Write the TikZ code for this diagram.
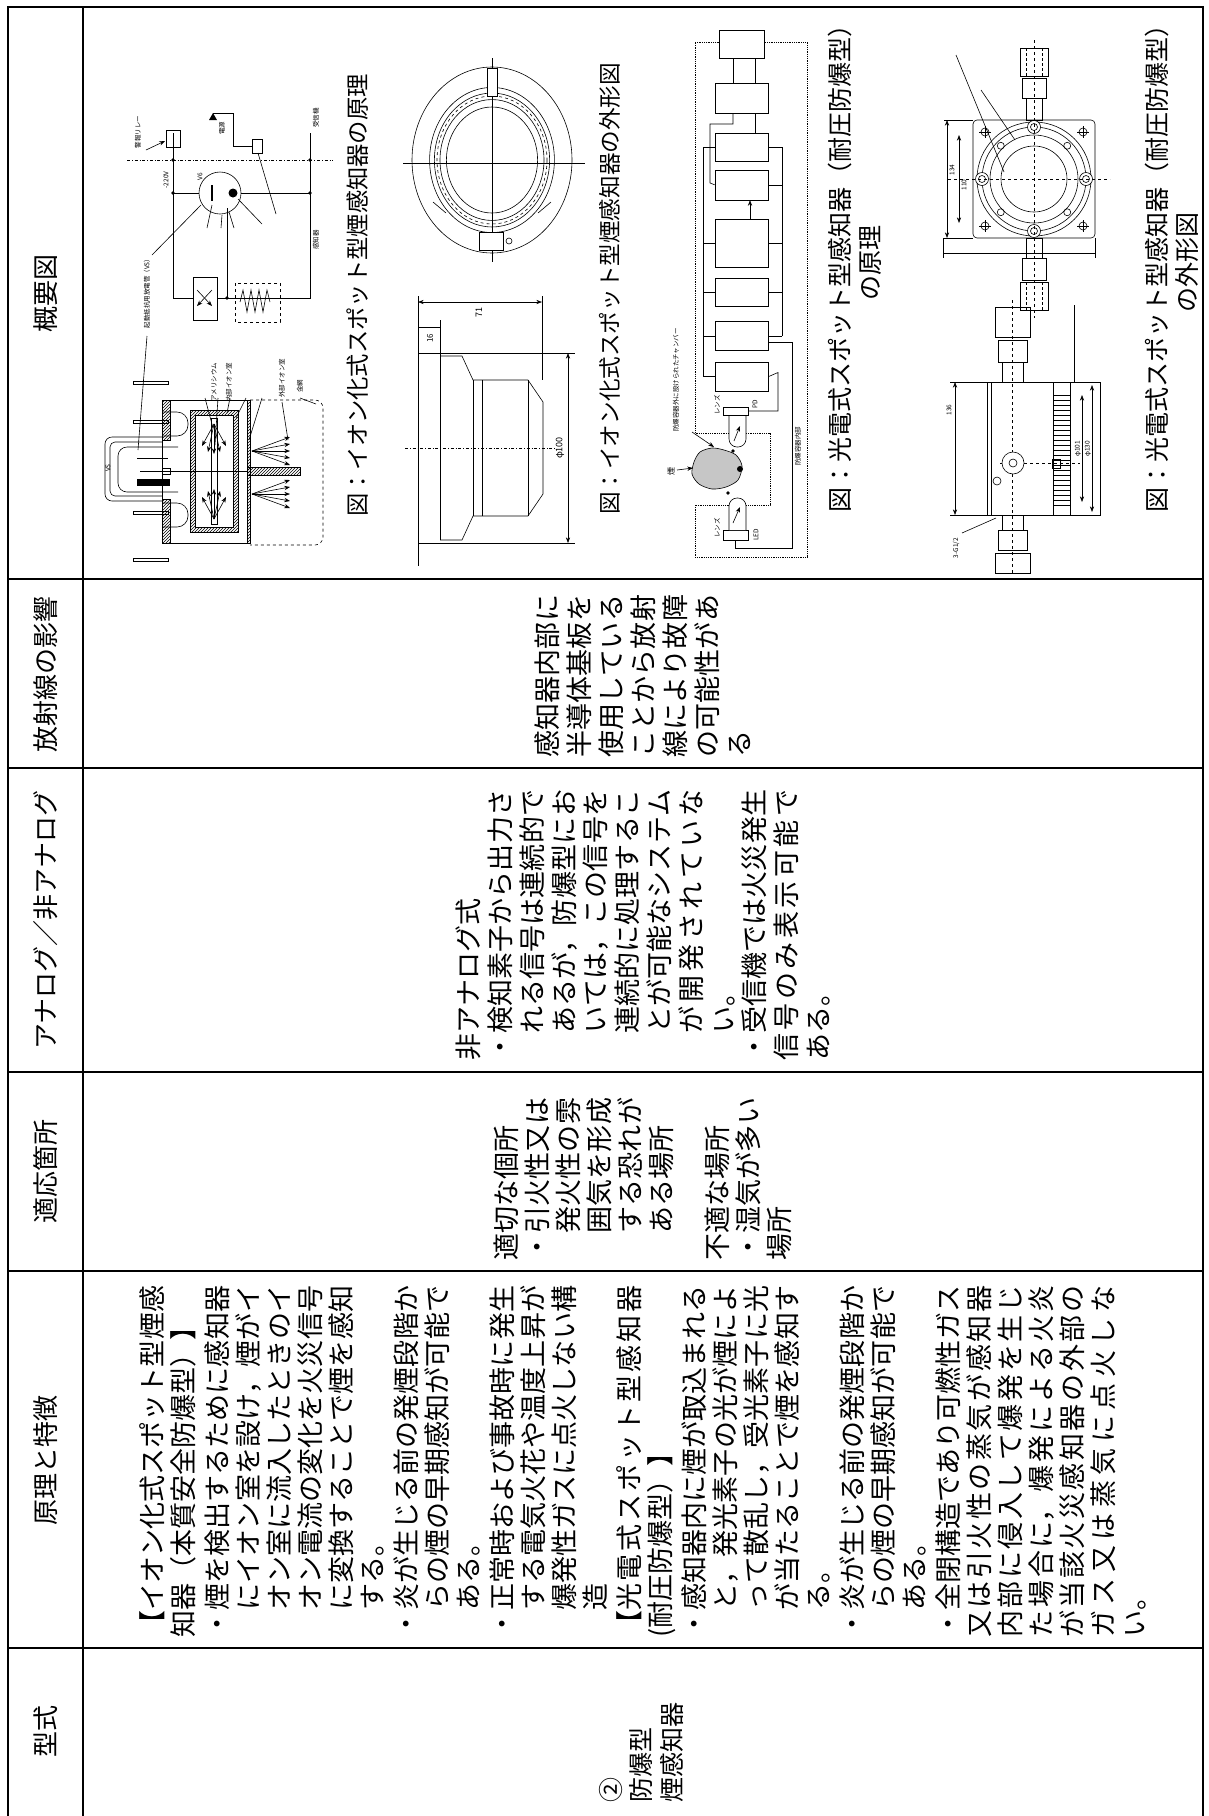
\documentclass[tikz,border=0pt]{standalone}
\usepackage{fontspec}
\setmainfont{Noto Sans CJK JP}
\usetikzlibrary{positioning,arrows.meta,patterns}
\XeTeXlinebreaklocale "ja"
\XeTeXlinebreakskip=0pt plus 8pt
\newcommand\hdrfont{\fontsize{26}{30}\selectfont}
\newcommand\bodyfont[2]{\fontsize{27}{#1}\selectfont\parindent=0pt\parskip=#2\relax}
\newcommand\kindfont{\fontsize{25}{30.5}\selectfont}
\newcommand\capfont[1]{\fontsize{#1}{30}\selectfont}
\newcommand\tinyfont{\fontsize{6.5}{7.5}\selectfont}
\newcommand\itm{\par\hangindent=1em\hangafter=1 ・}

\begin{document}
\begin{tikzpicture}[x=1pt, y=-1pt, >=Stealth, every node/.style={inner sep=0pt}]
  % table rules, header and cell styles
  \tikzset{tablerule/.style={line width=2.4pt},
    hdr/.style={rotate=90, font=\hdrfont},
    cell/.style={rotate=90, anchor=west, align=justify},
    capt/.style={rotate=90, anchor=west},
    lbl/.style={rotate=90, font=\tinyfont},
    blk/.style={draw, fill=white, line width=0.6pt, minimum width=53pt, minimum height=28pt}}
  \useasboundingbox (0,0) rectangle (1208,1816);

  % the table runs on past the lower edge of the page
  \draw[tablerule] (8,1830) -- (8,7) -- (1203,7) -- (1203,1830);
  \draw[tablerule] (83,7) -- (83,1830);
  \foreach \y in {579,768,1072,1271,1648} \draw[tablerule] (8,\y) -- (1203,\y);

  % header column (page is turned by 90 degrees)
  \node[hdr] (hfig) at (45.5,293) {概要図};
  \node[hdr] (hrad) at (45.5,674) {放射線の影響};
  \node[hdr] (hana) at (45.5,920) {アナログ／非アナログ};
  \node[hdr] (hsite) at (45.5,1171) {適応箇所};
  \node[hdr] (hprin) at (45.5,1460) {原理と特徴};
  \node[hdr] (hkind) at (45.5,1731) {型式};

  % cell texts
  \node[rotate=90, anchor=west, align=left, font=\kindfont] (tkind) at (641,1803) {②\\防爆型\\煙感知器};
  \node[cell, text width=352pt, font={\bodyfont{31}{3pt}}] (tprin) at (643,1638) {【イオン化式スポット型煙感\linebreak
知器（本質安全防爆型）】
\itm 煙を検出するために感知器\linebreak
にイオン室を設け，煙がイ\linebreak
オン室に流入したときのイ\linebreak
オン電流の変化を火災信号\linebreak
に変換することで煙を感知\linebreak
する。
\itm 炎が生じる前の発煙段階か\linebreak
らの煙の早期感知が可能で\linebreak
ある。
\itm 正常時および事故時に発生\linebreak
する電気火花や温度上昇が\linebreak
爆発性ガスに点火しない構\linebreak
造
\par【光電式スポット型感知器\linebreak
(耐圧防爆型）】
\itm 感知器内に煙が取込まれる\linebreak
と，発光素子の光が煙によ\linebreak
って散乱し，受光素子に光\linebreak
が当たることで煙を感知す\linebreak
る。
\itm 炎が生じる前の発煙段階か\linebreak
らの煙の早期感知が可能で\linebreak
ある。
\itm 全閉構造であり可燃性ガス\linebreak
又は引火性の蒸気が感知器\linebreak
内部に侵入して爆発を生じ\linebreak
た場合に，爆発による火炎\linebreak
が当該火災感知器の外部の\linebreak
ガス又は蒸気に点火しな\linebreak
い。};
  \node[cell, text width=163pt, font={\bodyfont{31}{0pt}}] (tsite) at (643,1261) {適切な個所
\itm 引火性又は\linebreak
発火性の雰\linebreak
囲気を形成\linebreak
する恐れが\linebreak
ある場所\par\vspace{25pt}
不適な場所
\itm 湿気が多い\linebreak
場所};
  \node[cell, text width=271pt, font={\bodyfont{31.8}{0pt}}] (tana) at (643,1061) {非アナログ式
\itm 検知素子から出力さ\linebreak
れる信号は連続的で\linebreak
あるが，防爆型にお\linebreak
いては，この信号を\linebreak
連続的に処理するこ\linebreak
とが可能なシステム\linebreak
が開発されていな\linebreak
い。
\itm 受信機では火災発生\linebreak
信号のみ表示可能で\linebreak
ある。};
  \node[cell, text width=163pt, font={\bodyfont{32}{0pt}}] (trad) at (643,758) {感知器内部に\linebreak
半導体基板を\linebreak
使用している\linebreak
ことから放射\linebreak
線により故障\linebreak
の可能性があ\linebreak
る};

  % figure captions
  \node[capt, font=\capfont{23.3}] (capion) at (358,517) {図：イオン化式スポット型煙感知器の原理};
  \node[capt, font=\capfont{22.6}] (capionout) at (610,515) {図：イオン化式スポット型煙感知器の外形図};
  \node[rotate=90, anchor=north west, align=center, font=\capfont{25}] (capphoto) at (827.5,513) {図：光電式スポット型感知器（耐圧防爆型）\\の原理};
  \node[rotate=90, anchor=north west, align=center, font=\capfont{25}] (capphotoout) at (1144.5,513) {図：光電式スポット型感知器（耐圧防爆型）\\の外形図};

  % ion chamber principle sketch: circuit
  \begin{scope}[line width=0.6pt]
    \draw[dash dot] (127,160) -- (333,160);
    \draw (173,133) -- (173,298) -- (193,298);
    \draw (217,298) -- (310,298) -- (310,133);
    \draw (173,193) -- (199,193) (241,193) -- (310,193);
    \draw (220,193) circle (21);
    \draw[line width=2pt] (212,185) -- (212,201);
    \fill (233,193) circle (4.5);
    \draw (227,208) -- (227,298);
    \foreach \p in {(173,160),(310,160),(173,193),(310,193),(227,298)} \fill \p circle (1.8);
    \draw (193,277) rectangle (217,320);
    \draw[->] (197,290) -- (212,306);
    \draw[->] (212,290) -- (197,306);
    \draw[dashed] (235,283) rectangle (280,322);
    \draw (240,302) -- (243,290) -- (247,312) -- (251,290) -- (255,312) -- (259,290) -- (263,312) -- (267,290) -- (270,302);
    \draw (166,130) rectangle (180,147);
    \draw[->] (146,150) -- (165,141);
    \fill (213,113) -- (209,120) -- (217,120) -- cycle;
    \draw (213,113) -- (233,113) -- (233,146) -- (252,146);
    \draw (252,139) rectangle (262,153);
    \draw (258,153) -- (276,214);
    \draw (152,255) -- (201,205) (207,228) -- (212,205) (221,228) -- (222,215) (234,228) -- (229,212) (262,224) -- (238,199);
    \node[lbl] (lrelay) at (138,132) {警報リレー};
    \node[lbl] (lpow) at (222,128) {電源};
    \node[lbl] (lrecv) at (316,118) {受信機};
    \node[lbl] (ldet) at (316,240) {感知器};
    \node[lbl] (lvolt) at (166,180) {-220V};
    \node[lbl] (lvs) at (147,292) {起動抵抗用放電管（VS）};
    \node[lbl] (lv6) at (200,177) {V6};

    % tube, pins and chambers
    \foreach \y in {383,422,513,560} \draw (133,\y-1.5) rectangle (168,\y+1.5);
    \draw[rounded corners=7] (162,437) -- (105,437) -- (105,501) -- (162,501);
    \draw[rounded corners=5] (162,442) -- (110,442) -- (110,496) -- (162,496);
    \draw[rounded corners=9] (178,447) -- (118,447) -- (118,492) -- (178,492);
    \draw (137,458) -- (168,458);
    \fill (137,479) rectangle (170,486);
    \draw (162,468) rectangle (170,474);
    \draw[rounded corners=11] (162,412) -- (188,412) -- (188,436) -- (162,436);
    \draw[rounded corners=11] (162,503) -- (188,503) -- (188,527) -- (162,527);
    \draw (162,400) rectangle (250,543);
    \draw[pattern=north east lines] (162,400) rectangle (170,440);
    \draw[pattern=north east lines] (162,499) rectangle (170,543);
    \draw[pattern=north east lines] (247,400) rectangle (250,543);
    \draw[pattern=north east lines] (190,410) rectangle (238,532);
    \draw[fill=white] (195,415) rectangle (233,527);
    \draw (211,418) rectangle (217,524);
    \draw (140,471) -- (247,471);
    \draw[pattern=north east lines] (247,467) rectangle (300,475);
    \foreach \dx/\dy in {-12/22,-6/28,0/30,6/28,12/22} {
      \draw[->] (214,424) -- ++(\dx,\dy);
      \draw[->] (214,519) -- ++(\dx,-\dy);
    }
    \foreach \dy in {-14,-7,0,7,14} {
      \draw[->] (252,451) -- (290,451+\dy);
      \draw[->] (252,494) -- (290,494+\dy);
    }
    \draw[dashed, rounded corners=8] (250,400) -- (323,400) -- (323,545) -- (250,545);
    \draw (147,336) -- (138,450);
    \draw (205,398) -- (213,428) (218,398) -- (215,445) (230,398) -- (227,413) (246,398) -- (236,418) (262,398) -- (249,440) (282,402) -- (288,440) (300,398) -- (316,404);
    \node[lbl] (lam) at (214,382) {アメリシウム};
    \node[lbl] (lin) at (229,382) {内部イオン室};
    \node[lbl] (lout) at (282,378) {外部イオン室};
    \node[lbl] (lnet) at (300,386) {金網};
    \node[lbl] (lvstube) at (108,468) {VS};
  \end{scope}

  % ion detector outline: top view and side view
  \begin{scope}[line width=0.6pt]
    \draw (492,160) ellipse (80 and 93);
    \foreach \r in {0.78,0.72,0.65,0.57} \draw (492,160) ellipse ({80*\r} and {93*\r});
    \draw[dashed] (492,160) ellipse (55 and 64);
    \draw (403,163) -- (585,163) (492,58) -- (492,262);
    \draw[fill=white] (487,68) rectangle (497,96);
    \draw[fill=white] (479,232) rectangle (503,250);
    \draw (509,241) circle (3);
    \draw (433,202) -- (446,213) (551,202) -- (538,213);
    \draw[<->] (418,302) -- (542,302);
    \draw (418,296) -- (418,566) (542,296) -- (542,380);
    \draw (418,327) -- (440,327) (440,320) -- (440,540);
    \draw (418,353) -- (575,353) (418,543) -- (575,543);
    \draw (440,356) -- (462,356) -- (473,380) -- (528,380) -- (543,402) -- (543,494) -- (528,516) -- (473,516) -- (462,540) -- (440,540);
    \draw (473,380) -- (473,516) (482,380) -- (482,516) (528,380) -- (528,516);
    \draw[<->] (568,353) -- (568,543);
    \draw[dash dot] (405,448) -- (555,448);
    \node[lbl, font=\fontsize{9}{10}\selectfont] (l71) at (479,312) {71};
    \node[lbl, font=\fontsize{8}{9}\selectfont] (l16) at (430,338) {16};
    \node[lbl, font=\fontsize{9}{10}\selectfont] (l100) at (560,448) {φ100};
  \end{scope}

  % photoelectric detector block diagram
  \draw[densely dotted, line width=0.8pt] (695,42) -- (807,42) -- (807,557) -- (695,557) -- (695,505) -- (770,505) -- (770,433) -- (695,433) -- cycle;
  \node[blk, minimum width=45pt] (bk1) at (741.5,44) {};
  \node[blk, minimum height=30pt, below=25pt of bk1] (bk2) {};
  \node[blk, below=19pt of bk2] (bk3) {};
  \node[blk, minimum height=30pt, below=8pt of bk3] (bk4) {};
  \node[blk, minimum height=48pt, below=19pt of bk4] (bk5) {};
  \node[blk, below=10pt of bk5] (bk6) {};
  \node[blk, minimum height=29pt, below=15pt of bk6] (bk7) {};
  \node[blk, minimum height=29pt, below=11pt of bk7] (bk8) {};
  \begin{scope}[line width=0.6pt]
    \draw (bk1.south -| 733,0) -- (bk2.north -| 733,0);
    \draw (bk1.south -| 755,0) -- (bk2.north -| 755,0);
    \draw (bk2.south -| 755,0) -- (bk3.north -| 755,0);
    \draw (bk2.south -| 733,0) -- (733,124) -- (710,124) -- (710,183) -- (bk4.west);
    \draw[->] (bk5.north -| 750,0) -- (bk4.south -| 750,0);
    \draw (bk3.west -| 703,0) -- (bk8.west -| 703,0);
    \foreach \b in {bk3,bk5,bk6,bk7,bk8} \draw (\b.west) -- (\b.west -| 703,0);
    \draw (bk3.east -| 782,0) -- (bk7.east -| 782,0);
    \foreach \b in {bk3,bk4,bk5,bk6,bk7} \draw (\b.east) -- (\b.east -| 782,0);
    % sensing chamber outside the enclosure
    \node[draw, fill=white, minimum width=25pt, minimum height=8pt] (pdlens) at (735.5,411) {};
    \node[draw, fill=white, minimum width=25pt, minimum height=10pt] (ledlens) at (735.5,535) {};
    \draw[fill=white, rounded corners=8] (729,416) -- (729,447) -- (746,447) -- (746,416);
    \draw[fill=white, rounded corners=8] (729,530) -- (729,498) -- (746,498) -- (746,530);
    \draw[->] (734,441) -- (740,426);
    \draw[->] (733,523) -- (740,507);
    \draw[fill=gray!45] plot[smooth cycle] coordinates {(694,462) (700,452) (712,448) (724,450) (736,455) (742,466) (738,480) (726,487) (712,489) (699,484) (692,474)};
    \fill (740,469) circle (3);
    \fill (733,451) circle (1.8);
    \fill (728,493) circle (1.8);
    \draw (pdlens.east) -| (778,372.5) -- (bk8.east);
    \draw (ledlens.south) |- (792,548) |- ([yshift=-6pt]bk7.east);
    \draw[->] (677,470) -- (693,468);
    \draw[->] (692,432) -- (714,447);
    \node[lbl] (lpd) at (755,404) {PD};
    \node[lbl] (lled) at (756,535) {LED};
    \node[lbl] (llens1) at (717,405) {レンズ};
    \node[lbl] (llens2) at (717,528) {レンズ};
    \node[lbl, font=\fontsize{8}{9}\selectfont] (lsmoke) at (671,471) {煙};
    \node[lbl] (lchamber) at (676,380) {防爆容器外に設けられたチャンバー};
    \node[lbl] (linside) at (798,446) {防爆容器内部};
  \end{scope}

  % photoelectric detector outline: top view and side view
  \begin{scope}[line width=0.6pt]
    \draw[rounded corners=4] (973,120) rectangle (1095,238);
    \foreach \r in {57,52,44,33} \draw (1034,179) circle (\r);
    \foreach \a in {0,90,180,270} {
      \draw[fill=white, shift={(1034,179)}] (\a:52) circle (6.5);
      \draw[shift={(1034,179)}] (\a:52) circle (3.5);
    }
    \foreach \a in {45,135,225,315} \draw[shift={(1034,179)}] (\a:47) circle (3.5);
    \foreach \p in {(985,132),(1083,132),(985,226),(1083,226)} {
      \draw \p circle (4);
      \draw \p ++(-6,0) -- ++(12,0) \p ++(0,-6) -- ++(0,12);
    }
    \draw[dashed] (1034,40) -- (1034,318) (948,179) -- (1110,179);
    \draw (1020,48) rectangle (1048,76) (1022,78) rectangle (1046,98) (1026,98) rectangle (1042,120);
    \draw (1026,238) rectangle (1042,258) (1022,258) rectangle (1046,280) (1020,282) rectangle (1048,310);
    \draw[densely dashed] (1026,48) -- (1026,76) (1042,48) -- (1042,76) (1026,282) -- (1026,310) (1042,282) -- (1042,310);
    \draw (944,120) -- (973,120) (944,238) -- (973,238);
    \draw[<->] (947,120) -- (947,238);
    \draw[<->] (959,135) -- (959,223);
    \draw (943,253) -- (1095,253) (943,238) -- (943,258) (1095,238) -- (1095,258);
    \draw (956,55) -- (1004,172) (981,90) -- (1015,140);
    \node[lbl] (l134) at (952,170) {134};
    \node[lbl] (l110) at (964,185) {110};

    \draw (987,382) rectangle (1100,515);
    \draw (991,382) -- (991,515) (1053,382) -- (1053,515) (1070,382) -- (1070,515);
    \foreach \y in {395,400,...,505} \draw (1053,\y) -- (1070,\y);
    \draw[dashed] (1012,300) -- (1012,575) (1000,463) -- (1080,463);
    \draw[fill=white] (1013,463) circle (11);
    \draw (1013,463) circle (4);
    \draw (997,481) circle (4);
    \draw (1052,459) rectangle (1060,468);
    \draw (995,307) rectangle (1030,337) (998,340) rectangle (1027,362) (1002,362) rectangle (1023,382);
    \draw (1002,515) rectangle (1023,530) (998,530) rectangle (1027,550) (995,553) rectangle (1030,573);
    \draw (950,382) -- (987,382) (950,515) -- (987,515);
    \draw[<->] (955,382) -- (955,515);
    \draw[<->] (1082,395) -- (1082,502);
    \draw[<->] (1092,385) -- (1092,512);
    \draw (1074,305) -- (1074,382);
    \draw (962,533) -- (996,518);
    \node[lbl] (l136) at (949,410) {136};
    \node[lbl, fill=white] (l101) at (1078,449) {φ101};
    \node[lbl, fill=white] (l130) at (1088,449) {φ130};
    \node[lbl] (lg12) at (956,548) {3-G1/2};
  \end{scope}
\end{tikzpicture}
\end{document}
